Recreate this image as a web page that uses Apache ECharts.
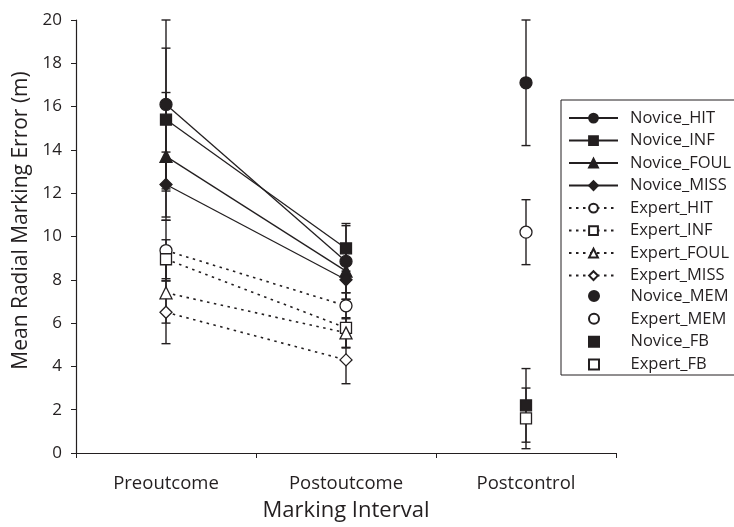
<!DOCTYPE html>
<html>
<head>
<meta charset="utf-8">
<script src="https://cdn.jsdelivr.net/npm/echarts@6/dist/echarts.min.js"></script>
<style>
html,body{margin:0;padding:0;background:#fff;}
#chart{width:734px;height:527px;}
</style>
</head>
<body>
<div id="chart"></div>
<script>
// ---- data ----
const categories = ['Preoutcome', 'Postoutcome', 'Postcontrol'];
const yTicks = [0, 2, 4, 6, 8, 10, 12, 14, 16, 18, 20];

const noviceHit = [16.1, 8.85];   const noviceHitErr = [3.9, 1.75];
const noviceInf = [15.4, 9.45];   const noviceInfErr = [3.3, 1.05];
const noviceFoul = [13.7, 8.4];   const noviceFoulErr = [2.95, 1.0];
const noviceMiss = [12.4, 8.0];   const noviceMissErr = [1.5, 0.9];
const expertHit = [9.35, 6.8];    const expertHitErr = [1.4, 0.6];
const expertInf = [8.95, 5.78];   const expertInfErr = [0.9, 0.9];
const expertFoul = [7.4, 5.55];   const expertFoulErr = [1.4, 0.7];
const expertMiss = [6.5, 4.3];    const expertMissErr = [1.45, 1.1];

const noviceMem = [17.1];  const noviceMemErr = [2.9];
const expertMem = [10.2];  const expertMemErr = [1.5];
const noviceFb = [2.2];    const noviceFbErr = [1.7];
const expertFb = [1.6];    const expertFbErr = [1.4];

// ---- build ----
const INK = '#231f20';
const FONT = 'Open Sans';

const lineDefs = [
  ['Novice_HIT', noviceHit, noviceHitErr, 'circle', true],
  ['Novice_INF', noviceInf, noviceInfErr, 'rect', true],
  ['Novice_FOUL', noviceFoul, noviceFoulErr, 'triangle', true],
  ['Novice_MISS', noviceMiss, noviceMissErr, 'diamond', true],
  ['Expert_HIT', expertHit, expertHitErr, 'circle', false],
  ['Expert_INF', expertInf, expertInfErr, 'rect', false],
  ['Expert_FOUL', expertFoul, expertFoulErr, 'triangle', false],
  ['Expert_MISS', expertMiss, expertMissErr, 'diamond', false]
];
const pointDefs = [
  ['Novice_MEM', noviceMem, noviceMemErr, 'circle', true],
  ['Expert_MEM', expertMem, expertMemErr, 'circle', false],
  ['Novice_FB', noviceFb, noviceFbErr, 'rect', true],
  ['Expert_FB', expertFb, expertFbErr, 'rect', false]
];

const symSize = {circle: 12, rect: 11, triangle: 12, diamond: 12};
const legendIcon = {circle: 'circle', rect: 'path://M0,0h10v10h-10z'};

const errData = [];
lineDefs.forEach(d => d[1].forEach((v, i) => errData.push([i, v - d[2][i], v + d[2][i]])));
pointDefs.forEach(d => d[1].forEach((v, i) => errData.push([2, v - d[2][i], v + d[2][i]])));

const series = [];
series.push({
  type: 'custom',
  name: 'err',
  z: 1,
  silent: true,
  data: errData,
  renderItem: function (params, api) {
    const x = api.value(0);
    const lo = api.coord([x, api.value(1)]);
    const hi = api.coord([x, api.value(2)]);
    const hw = 4.5;
    const st = {stroke: INK, lineWidth: 1.4};
    return {
      type: 'group',
      children: [
        {type: 'line', shape: {x1: lo[0], y1: lo[1], x2: hi[0], y2: hi[1]}, style: st},
        {type: 'line', shape: {x1: lo[0] - hw, y1: lo[1], x2: lo[0] + hw, y2: lo[1]}, style: st},
        {type: 'line', shape: {x1: hi[0] - hw, y1: hi[1], x2: hi[0] + hw, y2: hi[1]}, style: st}
      ]
    };
  }
});

lineDefs.forEach(d => {
  const filled = d[4];
  series.push({
    type: 'line',
    name: d[0],
    z: 3,
    data: d[1],
    symbol: d[3],
    symbolSize: symSize[d[3]],
    showAllSymbol: true,
    lineStyle: filled ? {color: INK, width: 1.3, type: 'solid'}
                      : {color: INK, width: 1.6, type: [2.5, 4.5]},
    itemStyle: {color: filled ? INK : '#ffffff', borderColor: INK, borderWidth: 1.3},
    emphasis: {disabled: true},
    animation: false
  });
});

pointDefs.forEach(d => {
  const filled = d[4];
  series.push({
    type: 'scatter',
    name: d[0],
    z: 3,
    data: d[1].map(v => [2, v]),
    symbol: d[3],
    symbolSize: symSize[d[3]],
    itemStyle: {color: filled ? INK : '#ffffff', borderColor: INK, borderWidth: 1.3, opacity: 1},
    emphasis: {disabled: true},
    animation: false
  });
});

const chart = echarts.init(document.getElementById('chart'), null, {renderer: 'canvas'});
chart.setOption({
  animation: false,
  backgroundColor: '#ffffff',
  textStyle: {fontFamily: FONT, color: INK},
  grid: {left: 76, right: 118, top: 20, bottom: 71, containLabel: false},
  xAxis: {
    type: 'category',
    data: categories,
    boundaryGap: true,
    axisLine: {lineStyle: {color: INK, width: 1.2}},
    axisTick: {show: true, inside: false, length: 5, lineStyle: {color: INK, width: 1}},
    axisLabel: {color: INK, fontSize: 18.5, fontFamily: FONT, margin: 21},
    name: 'Marking Interval',
    nameLocation: 'middle',
    nameGap: 47,
    nameTextStyle: {color: INK, fontSize: 22, fontFamily: FONT},
    splitLine: {show: false}
  },
  yAxis: {
    type: 'value',
    min: yTicks[0],
    max: yTicks[yTicks.length - 1],
    interval: 2,
    axisLine: {show: true, lineStyle: {color: INK, width: 1.2}},
    axisTick: {show: true, inside: false, length: 5, lineStyle: {color: INK, width: 1}},
    axisLabel: {color: INK, fontSize: 17, fontFamily: FONT, margin: 14},
    name: 'Mean Radial Marking Error (m)',
    nameLocation: 'middle',
    nameGap: 44,
    nameTextStyle: {color: INK, fontSize: 21, fontFamily: FONT, padding: [0, 0, 0, 32]},
    splitLine: {show: false}
  },
  legend: [
    {
      orient: 'vertical',
      left: 568,
      top: 109.6,
      padding: 0,
      itemWidth: 49,
      itemHeight: 11,
      itemGap: 5.5,
      selectedMode: false,
      data: lineDefs.map(d => d[0]),
      textStyle: {color: INK, fontSize: 16.5, fontFamily: FONT, padding: [0, 0, 0, 7]}
    },
    {
      orient: 'vertical',
      left: 588,
      top: 287.4,
      padding: 0,
      itemWidth: 49,
      itemHeight: 10,
      itemGap: 5.9,
      selectedMode: false,
      data: pointDefs.map(d => ({name: d[0], icon: legendIcon[d[3]]})),
      textStyle: {color: INK, fontSize: 16.5, fontFamily: FONT, padding: [0, 0, 0, 7]}
    }
  ],
  graphic: [{
    type: 'rect',
    shape: {x: 561, y: 100, width: 200, height: 275},
    style: {fill: null, stroke: INK, lineWidth: 1},
    silent: true
  }],
  series: series
});
</script>
</body>
</html>
